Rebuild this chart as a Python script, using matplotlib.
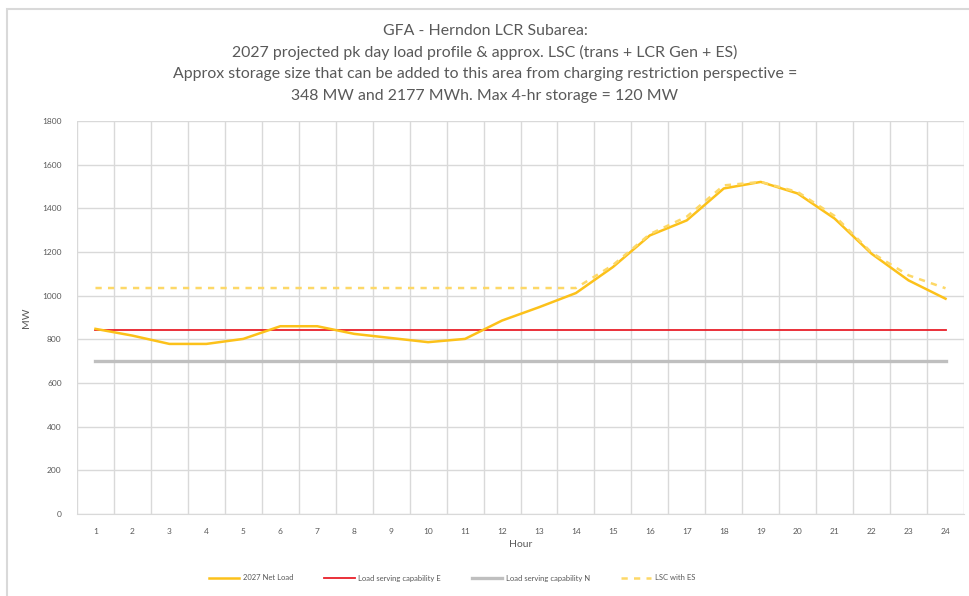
import matplotlib.pyplot as plt
from matplotlib.patches import Rectangle

plt.rcParams['font.family'] = ['Lato', 'DejaVu Sans']

# Hourly profile for the peak day
hours = list(range(1, 25))
net_load = [848, 817, 779, 779, 802, 860, 860, 825, 806, 787, 802, 886,
            947, 1012, 1131, 1276, 1345, 1491, 1521, 1468, 1353, 1192, 1070, 986]
lsc_es = [1035, 1035, 1035, 1035, 1035, 1035, 1035, 1035, 1035, 1035, 1035, 1035,
          1035, 1035, 1140, 1282, 1362, 1505, 1521, 1475, 1365, 1197, 1093, 1034]
lsc_e = [845] * 24
lsc_n = [700] * 24

title_lines = ['GFA - Herndon LCR Subarea:',
               '2027 projected pk day load profile & approx. LSC (trans + LCR Gen + ES)',
               'Approx storage size that can be added to this area from charging restriction perspective =',
               '348 MW and 2177 MWh. Max 4-hr storage = 120 MW']

txt = '#595959'
grid = '#d9d9d9'

fig = plt.figure(figsize=(9.69, 5.96), dpi=100)
# chart frame, only top and left edges fall inside the image
fig.patches.append(Rectangle((7 / 969, -0.1), 1.2, 1 - 9 / 596 + 0.1,
                             transform=fig.transFigure, fill=False,
                             edgecolor='#d9d9d9', linewidth=1.5))

ax = fig.add_axes([77 / 969, 1 - 514 / 596, 887 / 969, 393 / 596])

ax.plot(hours, lsc_n, color='#bfbfbf', linewidth=2.4, label='Load serving capability N', zorder=3)
ax.plot(hours, lsc_e, color='#e8202a', linewidth=1.3, label='Load serving capability E', zorder=4)
ax.plot(hours, net_load, color='#fcc11a', linewidth=1.8, label='2027 Net Load', zorder=5)
ax.plot(hours, lsc_es, color='#fdd867', linewidth=1.8, linestyle=(0, (2.5, 2.5)),
        label='LSC with ES', zorder=5)

ax.set_xlim(0.5, 24.5)
ax.set_ylim(0, 1800)
ax.set_yticks(range(0, 1801, 200))
ax.set_xticks(hours)
ax.set_xticks([h + 0.5 for h in range(0, 25)], minor=True)
ax.grid(True, axis='y', color=grid, linewidth=1)
ax.grid(True, axis='x', which='minor', color=grid, linewidth=1)
ax.set_axisbelow(True)
ax.tick_params(axis='both', which='both', length=0, colors=txt, labelsize=6)
ax.tick_params(axis='x', pad=10)
ax.tick_params(axis='y', pad=11)
for s in ax.spines.values():
    s.set_visible(False)
ax.spines['bottom'].set_visible(True)
ax.spines['bottom'].set_color(grid)

ax.set_xlabel('Hour', color=txt, fontsize=7.5, labelpad=4)
ax.set_ylabel('MW', color=txt, fontsize=7.5, labelpad=8)

for i, line in enumerate(title_lines):
    fig.text(485 / 969, 1 - (31 + i * 21.7) / 596, line, ha='center', va='center',
             color=txt, fontsize=11.4)

handles, labels = ax.get_legend_handles_labels()
order = [2, 1, 0, 3]
fig.legend([handles[i] for i in order], [labels[i] for i in order],
           loc='center', bbox_to_anchor=(452 / 969, 1 - 578 / 596), ncol=4,
           frameon=False, fontsize=5.5, labelcolor=txt, handlelength=4.0,
           columnspacing=4.0, handletextpad=0.5)

fig.savefig('out.png', dpi=100)
